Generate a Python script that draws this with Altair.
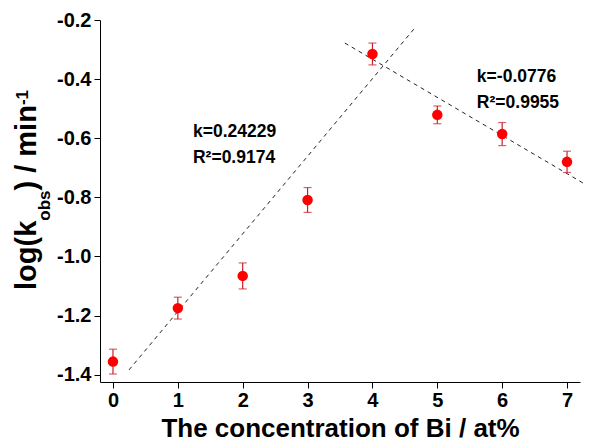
import altair as alt
import pandas as pd

# ---- data ----
bi_conc = [0, 1, 2, 3, 4, 5, 6, 7]
log_k = [-1.356, -1.175, -1.066, -0.809, -0.315, -0.521, -0.586, -0.680]
err = [0.042, 0.037, 0.044, 0.042, 0.037, 0.030, 0.039, 0.036]

fit1_x = [0.247, 4.653]
fit1_y = [-1.384, -0.227]
fit2_x = [3.575, 7.35]
fit2_y = [-0.278, -0.765]

ann_text = ["k=0.24229", "R²=0.9174", "k=-0.0776", "R²=0.9955"]
ann_x = [1.233, 1.233, 5.61, 5.61]
ann_y = [-0.596, -0.684, -0.410, -0.498]

x_ticks = [0, 1, 2, 3, 4, 5, 6, 7]
y_ticks = [-1.4, -1.2, -1.0, -0.8, -0.6, -0.4, -0.2]

FONT = "Liberation Sans"

pts = pd.DataFrame({"x": bi_conc, "y": log_k,
                    "lo": [v - e for v, e in zip(log_k, err)],
                    "hi": [v + e for v, e in zip(log_k, err)]})
f1 = pd.DataFrame({"x": fit1_x, "y": fit1_y})
f2 = pd.DataFrame({"x": fit2_x, "y": fit2_y})
ann = pd.DataFrame({"t": ann_text, "x": ann_x, "y": ann_y})

xs = alt.Scale(domain=[-0.2, 7.2], nice=False, zero=False)
ys = alt.Scale(domain=[-1.425, -0.2], nice=False, zero=False)

xaxis = alt.Axis(values=x_ticks, format="d", title="The concentration of Bi / at%",
                 grid=False, domainColor="black", tickColor="black", tickSize=6,
                 labelFont=FONT, labelFontSize=20, labelFontWeight="bold", labelColor="black",
                 labelPadding=2, titleFont=FONT, titleFontSize=26, titleFontWeight="bold",
                 titleColor="black", titleY=54, titleBaseline="alphabetic")
yaxis = alt.Axis(values=y_ticks, title=None,
                 labelExpr="replace(format(datum.value, '.1f'), '\u2212', '-')",
                 grid=False, domainColor="black", tickColor="black", tickSize=6,
                 labelFont=FONT, labelFontSize=20, labelFontWeight="bold", labelColor="black",
                 labelPadding=3)

base = alt.Chart(pts)

lines1 = alt.Chart(f1).mark_line(color="#222222", strokeDash=[4, 4], strokeWidth=1).encode(
    x=alt.X("x:Q", scale=xs, axis=xaxis), y=alt.Y("y:Q", scale=ys, axis=yaxis))
lines2 = alt.Chart(f2).mark_line(color="#222222", strokeDash=[4, 4], strokeWidth=1, clip=False).encode(
    x=alt.X("x:Q", scale=xs), y=alt.Y("y:Q", scale=ys))

ebar = base.mark_rule(color="#c8202a", strokeWidth=1.2).encode(
    x="x:Q", y="lo:Q", y2="hi:Q")
cap_lo = base.mark_tick(color="#c8202a", orient="horizontal", size=8, thickness=1.2).encode(
    x="x:Q", y="lo:Q")
cap_hi = base.mark_tick(color="#c8202a", orient="horizontal", size=8, thickness=1.2).encode(
    x="x:Q", y="hi:Q")
dots = base.mark_circle(color="#ff0000", size=110, opacity=1).encode(x="x:Q", y="y:Q")

labels = alt.Chart(ann).mark_text(font=FONT, fontSize=17.5, fontWeight="bold", align="left",
                                  baseline="alphabetic", color="black").encode(
    x=alt.X("x:Q", scale=xs), y=alt.Y("y:Q", scale=ys), text="t:N")

one = pd.DataFrame({"d": [0]})


def seg(txt, size, px, py):
    return alt.Chart(one).mark_text(text=txt, font=FONT, fontSize=size, fontWeight="bold",
                                    angle=270, align="left", baseline="alphabetic",
                                    color="black").encode(x=alt.value(px), y=alt.value(py))


ytitle = (seg("log(k", 29, -64, 270) + seg("obs", 17, -50, 200.7) +
          seg(") / min", 29, -64, 170.5) + seg("-1", 17, -72, 85.1))

chart = alt.layer(lines1, lines2, ebar, cap_lo, cap_hi, dots, labels, ytitle).properties(
    width=480, height=362,
    autosize=alt.AutoSizeParams(type="none"),
    padding={"left": 92, "top": 12, "right": 3, "bottom": 62},
).configure_view(stroke=None).configure_axis(domainWidth=1, tickWidth=1)

chart.save("out.html", embed_options={"renderer": "svg", "actions": False})
